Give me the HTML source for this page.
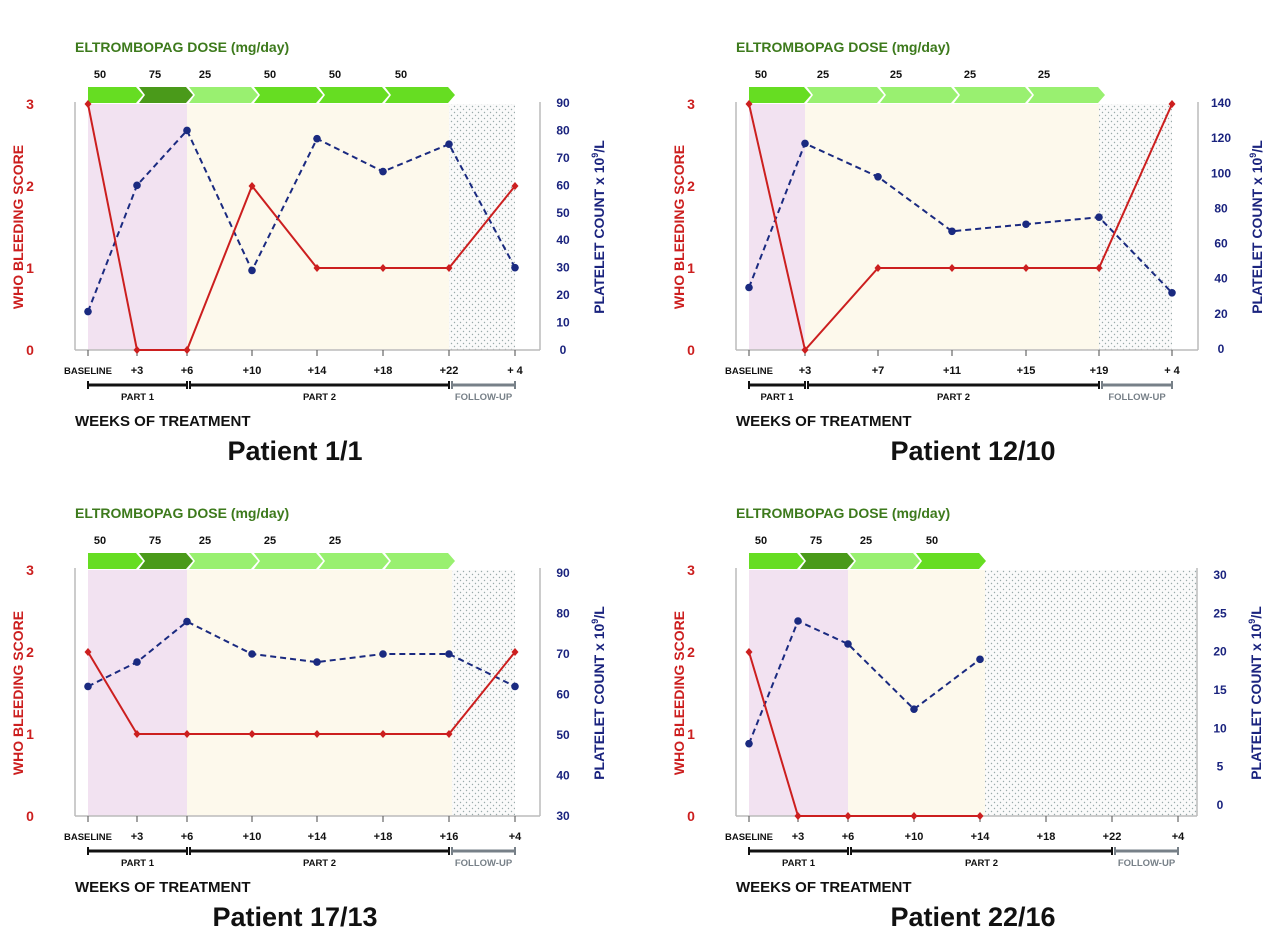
<!DOCTYPE html>
<html><head><meta charset="utf-8"><style>
body{margin:0;background:#fff;}
svg{display:block;font-family:"Liberation Sans",sans-serif;}
</style></head><body>
<svg id="fig" width="1280" height="937" viewBox="0 0 1280 937" xmlns="http://www.w3.org/2000/svg">
<defs>
<pattern id="dots" width="6" height="6" patternUnits="userSpaceOnUse"><rect width="6" height="6" fill="#fafafa"/><circle cx="1.5" cy="1.5" r="0.7" fill="#9aa"/><circle cx="4.5" cy="4.5" r="0.7" fill="#9aa"/></pattern>
</defs>
</svg>
<script>
// Panel 1
const p1Labels=["BASELINE","+3","+6","+10","+14","+18","+22","+ 4"];
const p1Bleed=[3,0,0,2,1,1,1,2];
const p1Plt=[14,60,80,29,77,65,75,30];
const p1Dose=[50,75,25,50,50,50];
const p1RTicks=[0,10,20,30,40,50,60,70,80,90];
// Panel 2
const p2Labels=["BASELINE","+3","+7","+11","+15","+19","+ 4"];
const p2Bleed=[3,0,1,1,1,1,3];
const p2Plt=[35,117,98,67,71,75,32];
const p2Dose=[50,25,25,25,25];
const p2RTicks=[0,20,40,60,80,100,120,140];
// Panel 3
const p3Labels=["BASELINE","+3","+6","+10","+14","+18","+16","+4"];
const p3Bleed=[2,1,1,1,1,1,1,2];
const p3Plt=[62,68,78,70,68,70,70,62];
const p3Dose=[50,75,25,25,25,""];
const p3RTicks=[30,40,50,60,70,80,90];
// Panel 4
const p4Labels=["BASELINE","+3","+6","+10","+14","+18","+22","+4"];
const p4Bleed=[2,0,0,0,0];
const p4Plt=[8,24,21,12.5,19];
const p4Dose=[50,75,25,50];
const p4RTicks=[0,5,10,15,20,25,30];

const NS="http://www.w3.org/2000/svg";
const svg=document.getElementById('fig');
function mk(tag,attrs,parent,text){const e=document.createElementNS(NS,tag);for(const k in attrs)e.setAttribute(k,attrs[k]);if(text!==undefined)e.textContent=text;(parent||svg).appendChild(e);return e;}
const doseCol={50:"#66dd22",75:"#4a9a1a",25:"#99f070","":"#99f070"};

function panel(cfg){
  const g=mk('g',{});
  
  
  const {xs,y0,y3,L,R,rMin,rMax,rY0,rY1}=cfg;
  const yL=v=>y0+(y3-y0)*v/3;
  const yR=v=>rY0+(rY1-rY0)*(v-rMin)/(rMax-rMin);
  // backgrounds
  const bg=mk('g',{},g);
  let r=mk('rect',{x:xs[0],y:y3,width:cfg.pinkEnd-xs[0],height:y0-y3,fill:"#f2e2f1"},bg);
  
  r=mk('rect',{x:cfg.pinkEnd,y:y3,width:cfg.creamEnd-cfg.pinkEnd,height:y0-y3,fill:"#fdf9ec"},bg);
  
  r=mk('rect',{x:cfg.creamEnd,y:y3,width:cfg.dotEnd-cfg.creamEnd,height:y0-y3,fill:"url(#dots)"},bg);
  
  // axes
  mk('line',{x1:L,y1:y3-2,x2:L,y2:y0,stroke:"#bbb","stroke-width":1.5},g);
  mk('line',{x1:R,y1:y3-2,x2:R,y2:y0,stroke:"#bbb","stroke-width":1.5},g);
  mk('line',{x1:L,y1:y0,x2:R,y2:y0,stroke:"#bbb","stroke-width":1.5},g);
  // left ticks
  for(let v=0;v<=3;v++){const t=mk('text',{x:L-45,y:yL(v)+5,fill:"#cc1f1f","font-size":14,"font-weight":"bold","text-anchor":"middle"},g,v);
    }
  cfg.rTicks.forEach(v=>{const t=mk('text',{x:R+23,y:yR(v)+4,fill:"#1a237e","font-size":12,"font-weight":"bold","text-anchor":"middle"},g,v);
    });
  // axis titles
  const cy=(y0+y3)/2;
  let t=mk('text',{x:0,y:0,transform:`translate(${L-52},${cy}) rotate(-90)`,fill:"#cc1f1f","font-size":14,"font-weight":"bold","text-anchor":"middle"},g,"WHO BLEEDING SCORE");
  
  t=mk('text',{x:0,y:0,transform:`translate(${R+64},${cy}) rotate(-90)`,fill:"#1a237e","font-size":14,"font-weight":"bold","text-anchor":"middle"},g);
  
  mk('tspan',{},t,"PLATELET COUNT x 10");mk('tspan',{dy:-6,"font-size":9},t,"9");mk('tspan',{dy:6},t,"/L");
  // x ticks & labels
  cfg.labels.forEach((lb,i)=>{const x=xs[i];
    mk('line',{x1:x,y1:y0,x2:x,y2:y0+6,stroke:"#666","stroke-width":1.2},g);
    const tt=mk('text',{x:x,y:y0+24,"font-size":lb==="BASELINE"?9.5:11,"font-weight":"bold","text-anchor":"middle",fill:"#111"},g,lb);
    });
  // part bars
  const by=y0+35;
  const bars=[[xs[0],cfg.p1End,"#111","PART 1"],[cfg.p1End+3,cfg.p2End,"#111","PART 2"],[cfg.p2End+3,xs[xs.length-1],"#778088","FOLLOW-UP"]];
  bars.forEach(b=>{mk('line',{x1:b[0],y1:by,x2:b[1],y2:by,stroke:b[2],"stroke-width":3},g);
    mk('line',{x1:b[0],y1:by-4,x2:b[0],y2:by+4,stroke:b[2],"stroke-width":2},g);
    mk('line',{x1:b[1],y1:by-4,x2:b[1],y2:by+4,stroke:b[2],"stroke-width":2},g);
    const pt=mk('text',{x:(b[0]+b[1])/2,y:by+15,"font-size":9.5,"font-weight":"bold","text-anchor":"middle",fill:b[2]==="#111"?"#111":"#778088"},g,b[3]);
    });
  t=mk('text',{x:L,y:y0+76,"font-size":15,"font-weight":"bold",fill:"#111"},g,"WEEKS OF TREATMENT");
  
  t=mk('text',{x:cfg.titleX,y:y0+110,"font-size":27,"font-weight":"bold","text-anchor":"middle",fill:"#111"},g,cfg.title);
  
  t=mk('text',{x:L,y:y3-52,"font-size":14,"font-weight":"bold",fill:"#3d7a1c"},g,"ELTROMBOPAG DOSE (mg/day)");
  
  // dose arrows
  const dy0=y3-17,dy1=y3-1,dm=(dy0+dy1)/2;
  cfg.dose.forEach((d,i)=>{const a=xs[i],b=xs[i+1];
    const pts=i===0?`${a},${dy0} ${b-1},${dy0} ${b+6},${dm} ${b-1},${dy1} ${a},${dy1}`:`${a+2},${dy0} ${b-1},${dy0} ${b+6},${dm} ${b-1},${dy1} ${a+2},${dy1} ${a+8},${dm}`;
    const p=mk('polygon',{points:pts,fill:doseCol[d]},g);
    
    const dt=mk('text',{x:a+(i===0?12:18),y:dy0-9,"font-size":11,"font-weight":"bold",fill:"#111","text-anchor":"middle"},g,d);
    });
  // platelet series
  const bp=cfg.plt.map((v,i)=>`${xs[i]},${yR(v)}`).join(' ');
  let l=mk('polyline',{points:bp,fill:"none",stroke:"#1a2a80","stroke-width":2,"stroke-dasharray":"6,4"},g);
  
  cfg.plt.forEach((v,i)=>{const c=mk('circle',{cx:xs[i],cy:yR(v),r:3.8,fill:"#1a2a80"},g);
    });
  // bleeding series
  const rp=cfg.bleed.map((v,i)=>`${xs[i]},${yL(v)}`).join(' ');
  l=mk('polyline',{points:rp,fill:"none",stroke:"#cc1f1f","stroke-width":2},g);
  
  cfg.bleed.forEach((v,i)=>{const x=xs[i],y=yL(v);
    const d=mk('polygon',{points:`${x},${y-4} ${x+3.5},${y} ${x},${y+4} ${x-3.5},${y}`,fill:"#cc1f1f"},g);
    });
}
const xsA=[88,137,187,252,317,383,449,515];
panel({name:'panel-patient-1-1',xs:xsA,y0:350,y3:104,L:75,R:540,rMin:0,rMax:90,rY0:350,rY1:103,rTicks:p1RTicks,
  labels:p1Labels,bleed:p1Bleed,plt:p1Plt,dose:p1Dose,pinkEnd:187,creamEnd:449,dotEnd:515,p1End:187,p2End:449,title:"Patient 1/1",titleX:295});
panel({name:'panel-patient-12-10',xs:[749,805,878,952,1026,1099,1172],y0:350,y3:104,L:736,R:1198,rMin:0,rMax:140,rY0:349,rY1:103,rTicks:p2RTicks,
  labels:p2Labels,bleed:p2Bleed,plt:p2Plt,dose:p2Dose,pinkEnd:805,creamEnd:1099,dotEnd:1172,p1End:805,p2End:1099,title:"Patient 12/10",titleX:973});
panel({name:'panel-patient-17-13',xs:xsA,y0:816,y3:570,L:75,R:540,rMin:30,rMax:90,rY0:816,rY1:573,rTicks:p3RTicks,
  labels:p3Labels,bleed:p3Bleed,plt:p3Plt,dose:p3Dose,pinkEnd:187,creamEnd:452,dotEnd:515,p1End:187,p2End:449,title:"Patient 17/13",titleX:295});
panel({name:'panel-patient-22-16',xs:[749,798,848,914,980,1046,1112,1178],y0:816,y3:570,L:736,R:1197,rMin:0,rMax:30,rY0:805,rY1:575,rTicks:p4RTicks,
  labels:p4Labels,bleed:p4Bleed,plt:p4Plt,dose:p4Dose,pinkEnd:848,creamEnd:985,dotEnd:1197,p1End:848,p2End:1112,title:"Patient 22/16",titleX:973});
</script>
</body></html>
